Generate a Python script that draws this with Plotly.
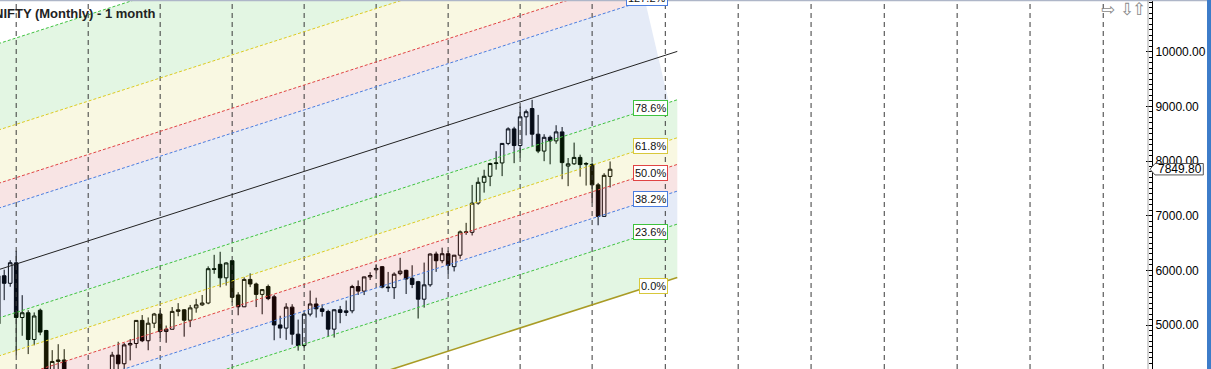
import plotly.graph_objects as go

# ---------------- data ----------------
title_text = "NIFTY (Monthly) - 1 month"
months = ["2007-10", "2007-11", "2007-12"] + [f"{y}-{m:02d}" for y in range(2008, 2016) for m in range(1, 13)] + \
         ["2016-01", "2016-02", "2016-03", "2016-04"]

opens = [5021, 5901, 5763,
         6137, 5137, 5224, 4735, 5270, 4900, 4040, 4333, 4360, 3921, 2885, 2755,
         2959, 2874, 2763, 3021, 3474, 4449, 4291, 4636, 4662, 5084, 4712, 5033,
         5201, 4882, 4922, 5249, 5278, 5087, 5313, 5368, 5402, 6030, 6110, 5863,
         6177, 5550, 5333, 5834, 5750, 5560, 5705, 5516, 5001, 4943, 5327, 4832,
         4624, 5199, 5385, 5296, 5248, 4924, 5279, 5229, 5259, 5703, 5620, 5880,
         6010, 6067, 5693, 5683, 5940, 6000, 5855, 5793, 5472, 5735, 6299, 6176,
         6304, 6067, 6277, 6704, 6696, 7230, 7611, 7721, 7954, 7965, 8322, 8588,
         8283, 8809, 8960, 8491, 8182, 8434, 8369, 8533, 7908, 7949, 8066, 7955,
         7938, 7564, 6987, 7718]
highs = [5923, 6012, 6185,
         6357, 5546, 5271, 5230, 5300, 4910, 4540, 4649, 4558, 3952, 3240, 3147,
         3147, 3030, 3123, 3517, 4509, 4693, 4670, 4743, 5087, 5182, 5138, 5221,
         5311, 4990, 5329, 5400, 5291, 5367, 5478, 5549, 6073, 6284, 6339, 6147,
         6181, 5600, 5872, 5944, 5775, 5657, 5740, 5552, 5169, 5399, 5380, 5099,
         5217, 5630, 5499, 5378, 5279, 5286, 5349, 5448, 5735, 5815, 5885, 5965,
         6111, 6080, 5971, 5963, 6229, 6011, 6093, 5808, 6142, 6309, 6342, 6415,
         6358, 6282, 6730, 6869, 7563, 7700, 7840, 7968, 8180, 8330, 8617, 8627,
         8996, 8941, 9119, 8844, 8490, 8467, 8655, 8622, 8055, 8337, 8116, 7979,
         7973, 7600, 7777, 7992]
lows = [4900, 5455, 5700,
        4448, 4803, 4468, 4628, 4813, 3986, 3791, 4178, 3716, 2253, 2503, 2570,
        2661, 2677, 2539, 2966, 3478, 4143, 3918, 4353, 4576, 4687, 4538, 4944,
        4766, 4675, 4923, 5160, 4786, 4961, 5225, 5349, 5380, 5937, 5690, 5721,
        5416, 5178, 5328, 5693, 5328, 5196, 5454, 4721, 4758, 4728, 4640, 4531,
        4588, 5159, 5135, 5154, 4789, 4770, 5032, 5164, 5215, 5549, 5548, 5823,
        5935, 5671, 5605, 5477, 5910, 5567, 5675, 5119, 5318, 5700, 5972, 6130,
        5933, 5980, 6212, 6650, 6638, 7200, 7422, 7540, 7842, 7724, 8290, 7961,
        8065, 8470, 8269, 8144, 7997, 7940, 8316, 7667, 7540, 7930, 7714, 7551,
        7241, 6825, 6985, 7516]
closes = [5901, 5763, 6139,
          5137, 5224, 4735, 5165, 4870, 4040, 4333, 4360, 3921, 2885, 2755, 2959,
          2874, 2763, 3021, 3474, 4449, 4291, 4636, 4662, 5084, 4712, 5033, 5201,
          4882, 4922, 5249, 5278, 5087, 5313, 5368, 5402, 6030, 6018, 5863, 6135,
          5506, 5333, 5834, 5750, 5560, 5647, 5482, 5001, 4943, 5327, 4832, 4624,
          5199, 5385, 5296, 5248, 4924, 5279, 5229, 5259, 5703, 5620, 5880, 5905,
          6035, 5693, 5683, 5930, 5986, 5842, 5742, 5472, 5735, 6299, 6176, 6304,
          6090, 6277, 6704, 6696, 7230, 7611, 7721, 7954, 7965, 8322, 8588, 8283,
          8809, 8902, 8491, 8182, 8434, 8369, 8533, 7971, 7949, 8066, 7935, 7946,
          7564, 6987, 7738, 7849.80]
last_price = 7849.80

# Fibonacci channel (month index counted from Jan 2008)
fib_levels = [0.0, 0.236, 0.382, 0.5, 0.618, 0.786, 1.0, 1.272, 1.382, 1.618, 2.0]
fib_labels = ["0.0%", "23.6%", "38.2%", "50.0%", "61.8%", "78.6%", "100.0%", "127.2%", "138.2%", "161.8%", "200.0%"]
channel_months = [-3.0, 110.2]
channel_base = [1873.7, 5869.7]
channel_height = 4136.0
label_month = 106.0
label_right_month = 108.7
slant_months = [108.8, 104.8]          # where the 78.6% / 127.2% edges of the upper blue band stop
year_lines = [0, 12, 24, 36, 48, 60, 72, 84, 96, 108.2, 120.35, 132.5, 144.7, 156.85, 169.0, 181.2]
y_range = [4195, 10946]
x_range = [-2.7, 189.33]

# ---------------- styling ----------------
W, H = 1211, 369
ML, MR = 0, 59
PW = W - ML - MR
price_per_px = (y_range[1] - y_range[0]) / H

GREEN, YELLOW, RED, BLUE = "#3fc23f", "#dccb22", "#e04444", "#4a7de0"
A = 0.12
F_GREEN = f"rgba(22,180,22,{A})"
F_YELLOW = f"rgba(205,197,13,{A})"
F_RED = f"rgba(197,30,30,{A})"
F_BLUE = f"rgba(38,88,188,{A})"
line_styles = {0.0: ("#a99b25", "solid", 1.6), 0.236: (GREEN, "3px,2px", 1), 0.382: (BLUE, "3px,2px", 1),
               0.5: (RED, "3px,2px", 1), 0.618: (YELLOW, "3px,2px", 1), 0.786: (GREEN, "3px,2px", 1),
               1.0: ("#222222", "solid", 1), 1.272: (BLUE, "3px,2px", 1), 1.382: (RED, "3px,2px", 1),
               1.618: (YELLOW, "3px,2px", 1), 2.0: (GREEN, "3px,2px", 1)}
bands = [(0.0, 0.236, F_GREEN), (0.236, 0.382, F_BLUE), (0.382, 0.5, F_RED), (0.5, 0.618, F_YELLOW),
         (0.618, 0.786, F_GREEN), (0.786, 1.272, F_BLUE), (1.272, 1.382, F_RED), (1.382, 1.618, F_YELLOW),
         (1.618, 2.0, F_GREEN)]
label_border = {0.0: "#d8c83a", 0.236: GREEN, 0.382: BLUE, 0.5: RED, 0.618: "#d8c83a", 0.786: GREEN, 1.272: BLUE}


def base_at(m):
    m0, m1 = channel_months
    return channel_base[0] + (channel_base[1] - channel_base[0]) * (m - m0) / (m1 - m0)


def level_at(lvl, m):
    return base_at(m) + lvl * channel_height


def month_index(s):
    y, m = s.split("-")
    return (int(y) - 2008) * 12 + int(m) - 1


xs = [month_index(s) for s in months]

fig = go.Figure()

# candles (box layer, drawn beneath the translucent channel bands)
fig.add_trace(go.Candlestick(x=xs, open=opens, high=highs, low=lows, close=closes,
                             increasing=dict(line=dict(color="#000000", width=1), fillcolor="#ffffff"),
                             decreasing=dict(line=dict(color="#000000", width=1), fillcolor="#000000"),
                             whiskerwidth=0, showlegend=False, hoverinfo="skip"))

# band fills
for lo, hi, col in bands:
    lo_end, hi_end = channel_months[1], channel_months[1]
    if lo == 0.786:
        lo_end, hi_end = slant_months
    px_ = [channel_months[0], lo_end, hi_end, channel_months[0]]
    py_ = [level_at(lo, channel_months[0]), level_at(lo, lo_end), level_at(hi, hi_end), level_at(hi, channel_months[0])]
    fig.add_trace(go.Scatter(x=px_, y=py_, fill="toself", fillcolor=col, mode="none",
                             hoverinfo="skip", showlegend=False))

# vertical year separators
vx, vy = [], []
for m in year_lines:
    vx += [m, m, None]
    vy += [y_range[0], y_range[1], None]
fig.add_trace(go.Scatter(x=vx, y=vy, mode="lines", line=dict(color="#3a3a3a", width=1, dash="5px,4px"),
                         hoverinfo="skip", showlegend=False))

# channel lines
for lvl in fib_levels:
    col, dash, w = line_styles[lvl]
    fig.add_trace(go.Scatter(x=channel_months, y=[level_at(lvl, m) for m in channel_months], mode="lines",
                             line=dict(color=col, width=w, dash=dash), hoverinfo="skip", showlegend=False))

annotations = []
for lvl, txt in zip(fib_levels, fib_labels):
    if lvl not in label_border:
        continue
    yv = level_at(lvl, label_month)
    yanchor = "middle"
    if yv > y_range[1] - 5 * price_per_px:
        yv = yv - 7.5 * price_per_px
        yanchor = "bottom"
    annotations.append(dict(x=label_right_month, y=yv, xref="x", yref="y", text=txt, showarrow=False,
                            xanchor="right", yanchor=yanchor, bgcolor="#ffffff", bordercolor=label_border[lvl],
                            borderwidth=1, borderpad=1,
                            font=dict(family="Arial, Liberation Sans", size=11, color="#111111")))

annotations.append(dict(x=158 / PW, y=1 - 13.5 / H, xref="paper", yref="paper", text="<b>" + title_text + "</b>",
                        showarrow=False, xanchor="right", yanchor="middle",
                        font=dict(family="Arial, Liberation Sans", size=13, color="#222222")))

for cx, ch in [(1108, "\u21e8"), (1126.5, "\u21e9"), (1138.5, "\u21e7")]:
    annotations.append(dict(x=cx / PW, y=1 - 9.5 / H, xref="paper", yref="paper", text=ch, showarrow=False,
                            xanchor="center", yanchor="middle",
                            font=dict(family="DejaVu Sans", size=17, color="#8a8a8a")))

annotations.append(dict(x=1179.5 / PW, y=last_price, xref="paper", yref="y", text=f"{last_price:.2f}",
                        showarrow=False, xanchor="center", yanchor="middle",
                        font=dict(family="Arial, Liberation Sans", size=12, color="#000000")))

half = 5.7 * price_per_px
x_tip, x_l, x_r = 1150 / PW, 1155 / PW, 1203.3 / PW
pointer_path = (f"M {x_tip},{last_price} L {x_l},{last_price + half} L {x_r},{last_price + half} "
                f"L {x_r},{last_price - half} L {x_l},{last_price - half} Z")

shapes = [
    dict(type="line", xref="paper", yref="paper", x0=0, x1=W / PW, y0=1 - 0.5 / H, y1=1 - 0.5 / H,
         line=dict(color="#aeb6c8", width=1.5), layer="above"),
    dict(type="line", xref="paper", yref="paper", x0=1 - 4 / PW, x1=1 - 4 / PW, y0=0, y1=1,
         line=dict(color="#a8a8a8", width=1), layer="above"),
    dict(type="path", xref="paper", yref="y", path=pointer_path, fillcolor="#ffffff",
         line=dict(color="#555555", width=1), layer="above"),
    dict(type="rect", xref="paper", yref="paper", x0=1207 / PW, x1=1212 / PW, y0=0, y1=1,
         fillcolor="#3d7cc9", line=dict(width=0), layer="above"),
]

fig.update_layout(
    width=W, height=H, margin=dict(l=ML, r=MR, t=0, b=0),
    paper_bgcolor="#ffffff", plot_bgcolor="#ffffff",
    showlegend=False, boxgap=0.4, boxgroupgap=0,
    xaxis=dict(range=x_range, visible=False, rangeslider=dict(visible=False), fixedrange=True),
    yaxis=dict(range=y_range, side="right", showgrid=False, zeroline=False,
               showline=True, linecolor="#000000", linewidth=1,
               ticks="inside", ticklen=6, tickcolor="#000000", dtick=1000, tick0=0, tickformat=".2f",
               tickfont=dict(family="Arial, Liberation Sans", size=12, color="#000000"),
               minor=dict(dtick=100, ticks="inside", ticklen=3, tickcolor="#000000")),
    annotations=annotations, shapes=shapes,
)

fig.write_html("out.html")
